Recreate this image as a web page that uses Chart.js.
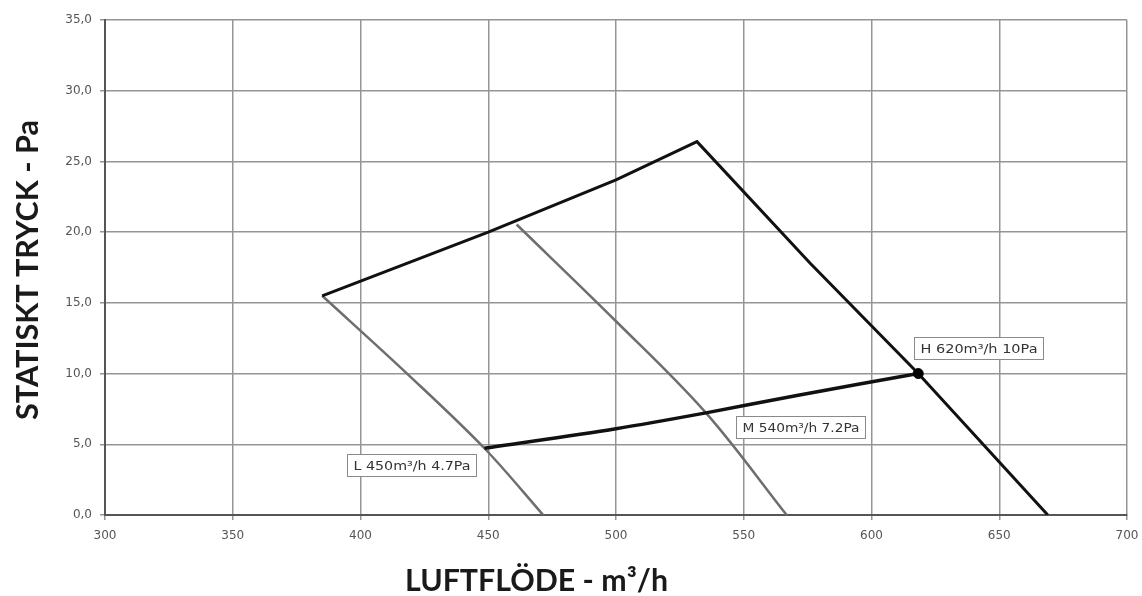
<!DOCTYPE html>
<html>
<head>
<meta charset="utf-8">
<script src="https://cdn.jsdelivr.net/npm/chart.js@4/dist/chart.umd.min.js"></script>
<style>
html, body { margin: 0; padding: 0; background: #fff; }
canvas { display: block; }
</style>
</head>
<body>
<canvas id="myChart" width="1142" height="596"></canvas>
<script>
'use strict'

// fan curves (x = m3/h, y = Pa)
var envelopeX = [385, 450, 500, 531.7, 576, 618.3, 669];
var envelopeY = [15.5, 20.0, 23.7, 26.4, 17.8, 10.0, 0];

var lowX = [385, 418.2, 448.5, 471.5];
var lowY = [15.5, 10.0, 4.72, 0];

var midX = [461.1, 500, 535.2, 566.8];
var midY = [20.54, 13.7, 7.22, 0];

var systemX = [448.5, 500, 535.2, 571.3, 618.3];
var systemY = [4.72, 6.1, 7.22, 8.47, 10.0];

var dutyX = [618.3];
var dutyY = [10.0];

var dutyLabels = ["L 450m³/h 4.7Pa", "M 540m³/h 7.2Pa", "H 620m³/h 10Pa"];

var xTicks = [300, 350, 400, 450, 500, 550, 600, 650, 700];
var yTicks = [0, 5, 10, 15, 20, 25, 30, 35];

var xTitle = "LUFTFLÖDE - m³/h";
var yTitle = "STATISKT TRYCK - Pa";

// where the label boxes sit (top left corner, in data units)
var labelAnchors = [
	{ x: 394.8, y: 4.33 },
	{ x: 547.0, y: 6.98 },
	{ x: 616.5, y: 12.58 }
];

function pts(xs, ys) {
	return xs.map(function(x, i) {
		return { x: x, y: ys[i] };
	});
}

var overlay = {
	id: 'overlay',
	afterDatasetsDraw: function(chart) {
		var ctx = chart.ctx;
		var sx = chart.scales.x, sy = chart.scales.y;
		ctx.save();
		ctx.font = '12px "DejaVu Sans"';
		ctx.textBaseline = 'middle';
		dutyLabels.forEach(function(txt, i) {
			var px = Math.round(sx.getPixelForValue(labelAnchors[i].x)) + 0.5;
			var py = Math.round(sy.getPixelForValue(labelAnchors[i].y)) + 0.5;
			var w = 129, h = 22;
			ctx.fillStyle = '#fff';
			ctx.fillRect(px, py, w, h);
			ctx.strokeStyle = '#8a8a8a';
			ctx.lineWidth = 1;
			ctx.strokeRect(px, py, w, h);
			var tw = ctx.measureText(txt).width;
			ctx.save();
			ctx.translate(px + 6, py + h / 2 + 1);
			ctx.scale(117 / tw, 1);
			ctx.fillStyle = '#333';
			ctx.fillText(txt, 0, 0);
			ctx.restore();
		});
		ctx.restore();
	},
	afterDraw: function(chart) {
		var ctx = chart.ctx;
		ctx.save();
		ctx.fillStyle = '#1a1a1a';
		ctx.font = 'bold 30px Lato';
		ctx.textBaseline = 'alphabetic';

		// x title
		var w = ctx.measureText(xTitle).width;
		ctx.save();
		ctx.translate(405, 591);
		ctx.scale(263 / w, 1);
		ctx.textAlign = 'left';
		ctx.fillText(xTitle, 0, 0);
		ctx.restore();

		// y title
		w = ctx.measureText(yTitle).width;
		ctx.save();
		ctx.translate(38, 270);
		ctx.rotate(-Math.PI / 2);
		ctx.scale(300 / w, 1);
		ctx.textAlign = 'center';
		ctx.fillText(yTitle, 0, 0);
		ctx.restore();

		ctx.restore();
	}
};

var ctx = document.getElementById("myChart").getContext("2d");

var myChart = new Chart(ctx, {
	type: 'scatter',
	data: {
		datasets: [
			{
				label: 'H',
				data: pts(dutyX, dutyY),
				pointRadius: 5,
				pointBackgroundColor: '#000',
				pointBorderColor: '#000',
				showLine: false
			},
			{
				label: 'Envelope',
				data: pts(envelopeX, envelopeY),
				showLine: true,
				borderColor: '#111',
				borderWidth: 3,
				pointRadius: 0,
				tension: 0
			},
			{
				label: 'System',
				data: pts(systemX, systemY),
				showLine: true,
				borderColor: '#111',
				borderWidth: 3.5,
				pointRadius: 0,
				tension: 0.3
			},
			{
				label: 'L',
				data: pts(lowX, lowY),
				showLine: true,
				borderColor: '#6e6e6e',
				borderWidth: 2.5,
				pointRadius: 0,
				tension: 0.35
			},
			{
				label: 'M',
				data: pts(midX, midY),
				showLine: true,
				borderColor: '#6e6e6e',
				borderWidth: 2.5,
				pointRadius: 0,
				tension: 0.35
			}
		]
	},
	options: {
		responsive: false,
		animation: false,
		layout: { padding: { left: 0, right: 15, top: 20, bottom: 0 } },
		plugins: {
			legend: { display: false },
			tooltip: { enabled: false }
		},
		scales: {
			x: {
				type: 'linear',
				min: 300,
				max: 700,
				afterFit: function(s) {
					s.height = 81;
					s.paddingLeft = 0;
					s.paddingRight = 0;
				},
				afterBuildTicks: function(s) {
					s.ticks = xTicks.map(function(v) { return { value: v }; });
				},
				ticks: {
					font: { family: 'DejaVu Sans', size: 12 },
					color: '#555',
					padding: 9,
					maxRotation: 0,
					callback: function(v) { return String(v); }
				},
				grid: { color: '#959595', lineWidth: 1.5, tickLength: 5 },
				border: { color: '#555', width: 2 }
			},
			y: {
				type: 'linear',
				min: 0,
				max: 35,
				afterFit: function(s) {
					s.width = 105;
					s.paddingTop = 0;
					s.paddingBottom = 0;
				},
				afterBuildTicks: function(s) {
					s.ticks = yTicks.map(function(v) { return { value: v }; });
				},
				ticks: {
					font: { family: 'DejaVu Sans', size: 12 },
					color: '#555',
					padding: 8,
					callback: function(v) { return v.toFixed(1).replace('.', ','); }
				},
				grid: { color: '#959595', lineWidth: 1.5, tickLength: 5 },
				border: { color: '#555', width: 2 }
			}
		}
	},
	plugins: [overlay]
});
</script>
</body>
</html>
